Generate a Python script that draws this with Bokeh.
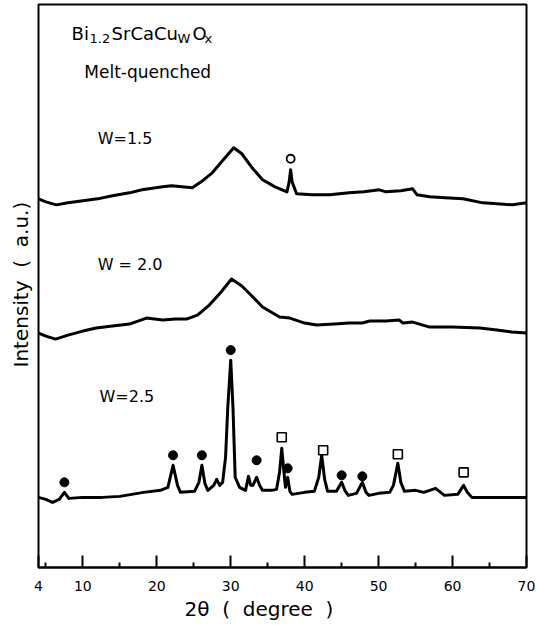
from bokeh.plotting import figure
from bokeh.models import Range1d, FixedTicker, Label, Title
from bokeh.embed import file_html
from bokeh.resources import INLINE

FONT = "DejaVu Sans"
NB = "\u00a0"

# ---- data (intensity in arbitrary units) ----
two_theta_w15 = [4.0, 5.0, 6.4, 8.0, 10.0, 12.0, 14.0, 16.3, 18.0, 20.8, 22.0, 24.8, 26.0,
                 27.5, 29.0, 30.4, 31.5, 33.0, 34.3, 36.0, 37.6, 37.9, 38.1, 38.3, 38.9,
                 41.0, 43.4, 46.0, 48.0, 50.1, 51.0, 53.0, 54.6, 55.2, 56.9, 59.0, 61.4,
                 64.1, 66.0, 68.1, 70.0]
intensity_w15 = [368, 365, 362, 364, 366, 368, 371, 374, 377, 380, 381, 379, 385,
                 394, 407, 419, 413, 398, 387, 380, 375, 385, 397, 385, 373,
                 372, 372, 374, 375, 377, 375, 376, 378, 372, 370, 369, 368,
                 364, 363, 362, 364]

two_theta_w20 = [4.0, 5.0, 6.3, 8.0, 10.0, 11.8, 14.0, 16.3, 18.6, 20.8, 22.5, 24.0, 25.5,
                 27.1, 28.7, 30.1, 31.5, 33.0, 34.3, 36.6, 38.0, 40.0, 41.6, 44.0, 46.0,
                 47.8, 48.8, 51.0, 52.8, 53.3, 54.6, 56.9, 60.0, 63.7, 66.0, 68.0, 70.0]
intensity_w20 = [234, 231, 228, 232, 236, 239, 241, 243, 249, 247, 248, 248, 252,
                 262, 275, 288, 281, 270, 260, 250, 249, 244, 242, 243, 244,
                 244, 246, 246, 247, 244, 245, 240, 240, 239, 237, 235, 234]

two_theta_w25 = [4.0, 5.0, 5.9, 6.8, 7.5, 8.1, 10.0, 12.6, 15.0, 18.2, 20.5, 21.5, 22.2,
                 22.8, 23.2, 25.1, 25.7, 26.1, 26.5, 26.9, 27.7, 28.1, 28.5, 28.9, 29.3,
                 29.6, 30.0, 30.3, 30.6, 31.2, 32.0, 32.4, 32.7, 33.0, 33.5, 33.9, 34.3,
                 35.5, 36.2, 36.6, 36.9, 37.2, 37.4, 37.7, 38.0, 38.3, 40.0, 41.3, 41.9,
                 42.3, 42.7, 43.1, 44.3, 45.0, 45.5, 45.9, 47.0, 47.8, 48.3, 48.7, 50.0,
                 51.5, 52.0, 52.6, 53.0, 53.5, 55.0, 56.1, 57.7, 58.9, 60.7, 61.5, 62.0,
                 62.6, 65.0, 68.0, 70.0]
intensity_w25 = [70, 68, 65, 68, 75, 69, 70, 70, 71, 75, 77, 80, 102,
                 82, 75, 76, 85, 102, 84, 77, 82, 88, 82, 85, 110,
                 160, 207, 160, 90, 80, 77, 91, 82, 82, 90, 82, 77,
                 77, 78, 95, 119, 95, 80, 90, 76, 73, 75, 76, 90,
                 112, 88, 76, 76, 85, 76, 72, 74, 85, 75, 72, 74,
                 75, 82, 104, 85, 76, 77, 75, 79, 72, 73, 82, 75,
                 70, 70, 70, 70]

# phase markers
dot_x = [7.5, 22.2, 26.1, 30.0, 33.5, 37.7, 45.0, 47.8]
dot_y = [85, 112, 112, 217, 107, 99, 92, 91]
square_x = [36.9, 42.5, 52.6, 61.5]
square_y = [130, 117, 113, 95]
ring_x = [38.1]
ring_y = [408]

x_ticks = [4, 10, 20, 30, 40, 50, 60, 70]
x_minor_ticks = [5, 15, 25, 35, 45, 55, 65]

p = figure(width=536, height=625, output_backend="svg", toolbar_location=None,
           x_range=Range1d(4, 70), y_range=Range1d(0, 562),
           min_border_left=38, min_border_right=10, min_border_top=4,
           min_border_bottom=58)
p.grid.visible = False
p.outline_line_color = "black"
p.outline_line_width = 2
p.background_fill_color = "white"
p.border_fill_color = "white"

xa = p.xaxis[0]
xa.ticker = FixedTicker(ticks=x_ticks, minor_ticks=x_minor_ticks)
xa.major_tick_in = 12
xa.major_tick_out = 0
xa.minor_tick_in = 5
xa.minor_tick_out = 0
xa.major_tick_line_width = 2
xa.minor_tick_line_width = 2
xa.axis_line_width = 2
xa.axis_line_color = "black"
xa.major_tick_line_color = "black"
xa.minor_tick_line_color = "black"
xa.major_label_text_font = FONT
xa.major_label_text_font_size = "14px"
xa.major_label_text_color = "black"
xa.major_label_standoff = 13
p.yaxis.visible = False

for xs, ys in [(two_theta_w15, intensity_w15), (two_theta_w20, intensity_w20),
               (two_theta_w25, intensity_w25)]:
    p.line(xs, ys, line_color="black", line_width=3, line_join="round")

p.scatter(dot_x, dot_y, marker="circle", size=9, fill_color="black", line_color="black")
p.scatter(square_x, square_y, marker="square", size=9, fill_color="white",
          line_color="black", line_width=1.6)
p.scatter(ring_x, ring_y, marker="circle", size=8, fill_color="white",
          line_color="black", line_width=1.8)

def lab(x, y, text, size, **kw):
    p.add_layout(Label(x=x, y=y, text=text, text_font=FONT, text_font_size=size,
                       text_color="black", text_baseline="alphabetic", **kw))

# title with subscripts
lab(8.47, 533, "Bi", "18px")
lab(10.9, 528, "1.2", "13px")
lab(13.88, 533, "SrCaCu", "18px")
lab(22.8, 528, "W", "13px")
lab(24.84, 533, "O", "18px")
lab(26.46, 528, "x", "13px")
lab(10.2, 495, "Melt-quenched", "17px")

lab(12.0, 428, "W=1.5", "16px")
lab(12.0, 302, "W = 2.0", "16px")
lab(12.25, 171, "W=2.5", "16px")

# axis titles
p.add_layout(Title(text="2θ " + NB + "( " + NB + "degree " + NB + ")", align="left",
                   offset=146, standoff=3, text_font=FONT, text_font_size="20px",
                   text_font_style="normal", text_color="black"), "below")
p.add_layout(Title(text="Intensity " + NB + "( " + NB + "a.u.)", align="left",
                   offset=200, standoff=12, text_font=FONT, text_font_size="20px",
                   text_font_style="normal", text_color="black"), "left")

open("out.html", "w").write(file_html(p, INLINE))
